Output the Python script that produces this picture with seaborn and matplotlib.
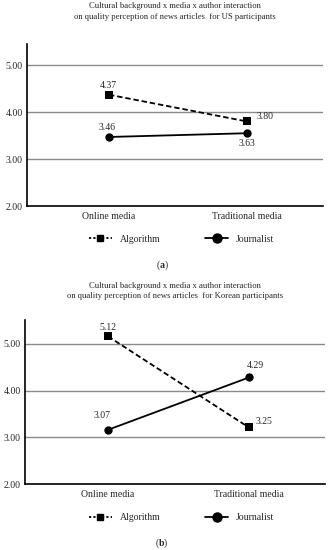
import pandas as pd
import seaborn as sns
import matplotlib.pyplot as plt
from matplotlib.lines import Line2D

media = ['Online media', 'Traditional media']
authors = ['Algorithm', 'Journalist']

# plotted positions and the printed labels
us_algorithm = [4.37, 3.80]
us_journalist = [3.47, 3.55]
us_algorithm_lbl = ['4.37', '3.80']
us_journalist_lbl = ['3.46', '3.63']

kr_algorithm = [5.16, 3.21]
kr_journalist = [3.16, 4.28]
kr_algorithm_lbl = ['5.12', '3.25']
kr_journalist_lbl = ['3.07', '4.29']

yticks = [2, 3, 4, 5]
ytick_labels = ['2.00', '3.00', '4.00', '5.00']

titles = ['Cultural background x media x author interaction\n'
          'on quality perception of news articles  for US participants',
          'Cultural background x media x author interaction\n'
          'on quality perception of news articles  for Korean participants']

sns.set_style('white')
plt.rcParams['font.family'] = ['Liberation Serif', 'DejaVu Serif']
plt.rcParams['mathtext.fontset'] = 'custom'
plt.rcParams['mathtext.rm'] = 'Liberation Serif'
plt.rcParams['mathtext.bf'] = 'Liberation Serif:bold'

fig = plt.figure(figsize=(3.3, 5.5), dpi=100)


def panel(rect, alg, jou, alg_lbl, jou_lbl, offs, ylim, xlim, title, title_y, leg_y, cap, cap_y):
    ax = fig.add_axes(rect)
    df = pd.DataFrame({
        'media': media * 2,
        'score': alg + jou,
        'author': ['Algorithm'] * 2 + ['Journalist'] * 2,
    })
    for y in [3, 4, 5]:
        ax.axhline(y, color='#8a8a8a', lw=1.0, zorder=0)
    sns.lineplot(data=df, x='media', y='score', style='author',
                 markers={'Algorithm': 's', 'Journalist': 'o'},
                 dashes={'Algorithm': (3, 1.6), 'Journalist': ''},
                 color='black', lw=1.3, markersize=6, markeredgewidth=0,
                 legend=False, ax=ax, zorder=3)
    labels = alg_lbl + jou_lbl
    vals = alg + jou
    xs = [0, 1, 0, 1]
    for x, v, t, o in zip(xs, vals, labels, offs):
        ax.annotate(t, (x, v), xytext=o, textcoords='offset pixels',
                    ha='center', va='center', fontsize=7)
    ax.set_ylim(*ylim)
    ax.set_xlim(*xlim)
    ax.set_yticks(yticks)
    ax.set_yticklabels(ytick_labels, fontsize=7)
    ax.tick_params(axis='both', length=0, pad=3)
    ax.tick_params(axis='x', labelsize=7, pad=4)
    ax.set_xlabel('')
    ax.set_ylabel('')
    for s in ['top', 'right']:
        ax.spines[s].set_visible(False)
    for s in ['left', 'bottom']:
        ax.spines[s].set_color('black')
        ax.spines[s].set_linewidth(1.2)
    fig.text(175 / 330, title_y, title, ha='center', va='center', fontsize=6.2,
             linespacing=1.35)
    handles = [Line2D([], [], color='black', ls=(0, (1.2, 1.2)), lw=1.3, marker='s', markersize=5),
               Line2D([], [], color='black', ls='-', lw=1.3, marker='o', markersize=6.5)]
    fig.legend(handles, authors, loc='center', bbox_to_anchor=(0.55, leg_y), ncol=2,
               frameon=False, fontsize=7, handlelength=2.4, columnspacing=4.6,
               handletextpad=0.8)
    fig.text(162 / 330, cap_y, cap, ha='center', va='center', fontsize=7)
    return ax


panel([27 / 330, 1 - 206 / 550, 296 / 330, 162 / 550],
      us_algorithm, us_journalist, us_algorithm_lbl, us_journalist_lbl,
      [(-1, 9), (18, 5), (-2, 9), (0, -10)],
      (2, 5.45), (-0.594, 1.55), titles[0], 1 - 11.5 / 550, 1 - 239 / 550,
      r'$(\mathbf{a})$', 1 - 265 / 550)

panel([25 / 330, 1 - 484 / 550, 300 / 330, 164 / 550],
      kr_algorithm, kr_journalist, kr_algorithm_lbl, kr_journalist_lbl,
      [(0, 9), (15, 6), (-6, 14), (6, 12)],
      (2, 5.51), (-0.589, 1.54), titles[1], 1 - 291 / 550, 1 - 518 / 550,
      r'$(\mathbf{b})$', 1 - 543 / 550)

fig.savefig('out.png', dpi=100)
